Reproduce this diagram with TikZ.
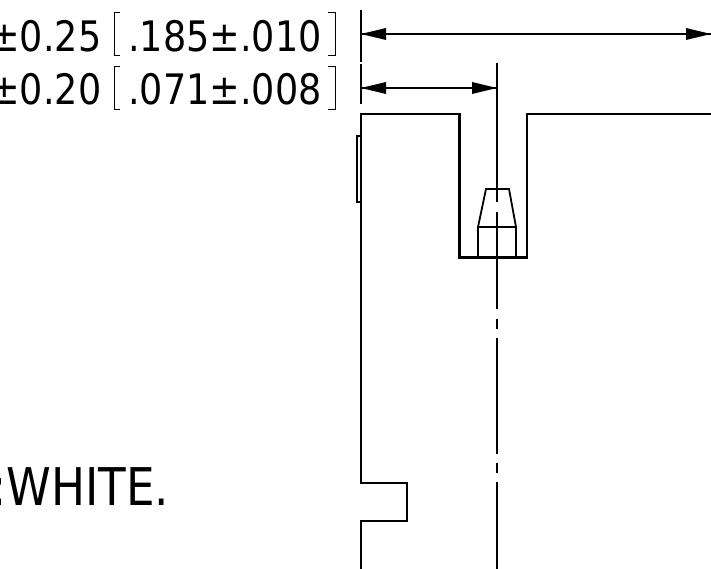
\documentclass[tikz,border=0pt]{standalone}
\usepackage{fontspec}
\setmainfont{DejaVu Sans}[FakeStretch=0.87]
\tikzset{
  part/.style={line width=2.2pt,line join=miter},
  thin part/.style={line width=1.8pt},
  center line/.style={line width=1.6pt},
  dimension/.style={line width=1.7pt},
  tip/.style={fill=black,draw=none},
  label/.style={inner sep=0pt,font=\fontsize{42pt}{42pt}\selectfont,anchor=base west},
  big label/.style={inner sep=0pt,font=\fontsize{52pt}{52pt}\selectfont,anchor=base west},
  bracket/.style={line width=0.9pt}
}
\begin{document}
\begin{tikzpicture}[x=1pt,y=-1pt]
\useasboundingbox (0,0) rectangle (711,569);
\clip (0,0) rectangle (711,569);
% texts
\node[label,anchor=base east] (a1) at (101.5,51.5) {±0.25};
\node[label] (a2) at (128,51.5) {.185±.010};
\node[label,anchor=base east] (b1) at (101.5,105) {±0.20};
\node[label] (b2) at (128,105) {.071±.008};
\node[big label] (c1) at (-9,505.5) {:WHITE.};
% brackets
\draw[bracket] (120,12) -- (114,12) -- (114,55) -- (120,55);
\draw[bracket] (328,12) -- (335,12) -- (335,55) -- (328,55);
\draw[bracket] (120,66) -- (114,66) -- (114,109) -- (120,109);
\draw[bracket] (328,66) -- (335,66) -- (335,109) -- (328,109);
% extension lines
\draw[dimension] (361,10) -- (361,62);
\draw[dimension] (361,64) -- (361,104);
% dimension lines
\coordinate (d1l) at (361,34); \coordinate (d1r) at (711,34);
\coordinate (d2l) at (361,88); \coordinate (d2r) at (497,88);
\draw[dimension] (d1l) -- (d1r);
\draw[dimension] (d2l) -- (d2r);
\fill[tip] (d1l) -- ++(25,-6) -- ++(0,12) -- cycle;
\fill[tip] (d1r) -- ++(-25,-6) -- ++(0,12) -- cycle;
\fill[tip] (d2l) -- ++(25,-6) -- ++(0,12) -- cycle;
\fill[tip] (d2r) -- ++(-25,-6) -- ++(0,12) -- cycle;
% center line
\draw[center line] (497,63) -- (497,202);
\draw[center line] (497,212) -- (497,309);
\draw[center line] (497,319) -- (497,329);
\draw[center line] (497,338) -- (497,454);
\draw[center line] (497,463) -- (497,473);
\draw[center line] (497,482) -- (497,569);
% outline
\draw[part] (361,569) -- (361,521) -- (407,521) -- (407,483) -- (361,483) -- (361,114)
  -- (459.5,114) -- (459.5,257.5) -- (527,257.5) -- (527,114) -- (711,114);
% side label
\draw[thin part] (361,136) -- (357,136) -- (357,202) -- (361,202);
% insert
\draw[thin part] (478,257.5) -- (478,227) -- (486,189) -- (509,189) -- (516,227) -- (516,257.5);
\draw[thin part] (478,227) -- (516,227);
\end{tikzpicture}
\end{document}
